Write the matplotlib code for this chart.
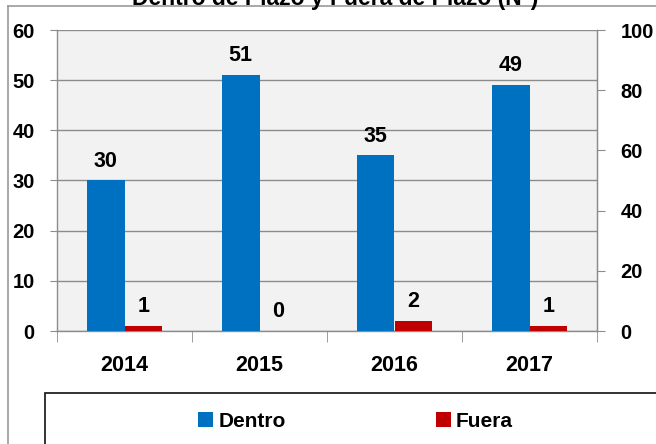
import matplotlib
matplotlib.use("Agg")
import matplotlib.pyplot as plt
from matplotlib.patches import Rectangle, Patch
from matplotlib.lines import Line2D
import numpy as np

categories = ["2014", "2015", "2016", "2017"]
dentro = [30, 51, 35, 49]
fuera = [1, 0, 2, 1]
left_ticks = [0, 10, 20, 30, 40, 50, 60]
right_ticks = [0, 20, 40, 60, 80, 100]
title = "Dentro de Plazo y Fuera de Plazo (N°)"

SANS = ["Liberation Sans", "DejaVu Sans"]

W, H = 656, 444
fig = plt.figure(figsize=(W / 100, H / 100), dpi=100)

def fx(px):
    return px / W

def fy(py):
    return 1 - py / H

# outer frame (partly outside the canvas, as in the reference)
fig.add_artist(Line2D([fx(8), fx(8)], [fy(6), fy(460)], color="#9a9a9a", lw=1.2))
fig.add_artist(Line2D([fx(8), fx(700)], [fy(6), fy(6)], color="#9a9a9a", lw=1.2))

# title, mostly cut off at the top edge as in the reference
fig.text(fx(335), fy(5), title, ha="center", va="baseline", fontsize=16.5,
         fontweight="bold", family=SANS)

ax = fig.add_axes([fx(57), fy(331), fx(597) - fx(57), fy(30) - fy(331)])
ax.set_facecolor("#f2f2f2")
x = np.arange(len(categories))
bw = 0.28
blue = "#0070c0"
red = "#c00000"
ax.bar(x - bw / 2, dentro, bw, color=blue, zorder=3)
ax.bar(x + bw / 2, fuera, bw, color=red, zorder=3)

lab = dict(ha="center", va="baseline", fontsize=15.5, fontweight="bold", family=SANS)
for xi, v in zip(x, dentro):
    ax.annotate(str(v), (xi - bw / 2, v), xytext=(0, 10), textcoords="offset points", **lab)
for xi, v in zip(x, fuera):
    ax.annotate(str(v), (xi + bw / 2, v), xytext=(0, 10), textcoords="offset points", **lab)

ax.set_xlim(-0.5, len(categories) - 0.5)
ax.set_ylim(0, 60)
ax.set_yticks(left_ticks)
ax.set_yticklabels([str(t) for t in left_ticks], fontsize=14.5, fontweight="bold", family=SANS)
ax.grid(axis="y", color="#8c8c8c", lw=1, zorder=1)
ax.set_axisbelow(True)
ax.set_xticks(x)
ax.set_xticklabels(categories, fontsize=15.5, fontweight="bold", family=SANS)
ax.set_xticks(np.arange(-0.5, len(categories)), minor=True)
ax.tick_params(axis="x", which="major", length=0, pad=17)
ax.tick_params(axis="x", which="minor", length=8, color="#8c8c8c", direction="out")
ax.tick_params(axis="y", length=5, color="#8c8c8c", pad=11, direction="out")
for s in ["left", "right", "bottom"]:
    ax.spines[s].set_color("#8c8c8c")
    ax.spines[s].set_linewidth(1)
ax.spines["top"].set_visible(False)

ax2 = ax.twinx()
ax2.set_ylim(0, 100)
ax2.set_yticks(right_ticks)
ax2.set_yticklabels([str(t) for t in right_ticks], fontsize=14.5, fontweight="bold", family=SANS)
ax2.tick_params(axis="y", length=6, color="#8c8c8c", pad=11, direction="out")
for s in ["left", "top", "bottom"]:
    ax2.spines[s].set_visible(False)
ax2.spines["right"].set_color("#8c8c8c")

# legend box (extends beyond the canvas)
fig.add_artist(Rectangle((fx(45), fy(470)), fx(720) - fx(45), fy(393) - fy(470),
                         transform=fig.transFigure, fill=False, edgecolor="#222222", lw=1.3))
handles = [Patch(facecolor=blue, edgecolor="none"), Patch(facecolor=red, edgecolor="none")]
leg = fig.legend(handles, ["Dentro", "Fuera"], ncol=2, frameon=False,
                 loc="center left", bbox_to_anchor=(fx(198), fy(421)),
                 prop={"family": SANS, "size": 15, "weight": "bold"},
                 handlelength=0.72, handleheight=0.72, handletextpad=0.25,
                 columnspacing=7.2, borderaxespad=0, borderpad=0)

fig.savefig("out.png", dpi=100)
